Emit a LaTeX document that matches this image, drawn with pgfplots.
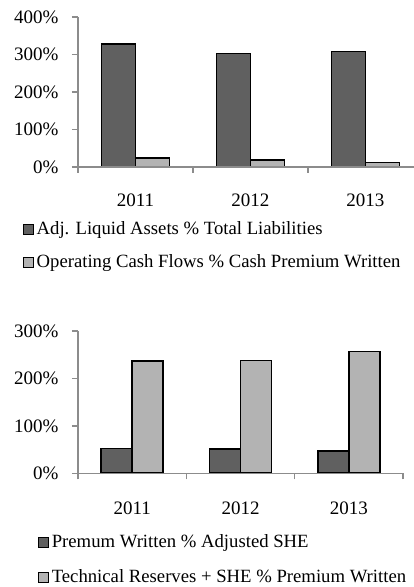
\documentclass[border=0pt]{standalone}
\usepackage{fontspec}
\setmainfont{Liberation Serif}
\usepackage{pgfplots}
\pgfplotsset{compat=1.18}
\definecolor{darkbar}{RGB}{96,96,96}
\definecolor{lightbar}{RGB}{179,179,179}
\definecolor{axisgray}{RGB}{140,140,140}
\pgfplotsset{
  mybar/.style={
    scale only axis,
    ybar=0pt,
    axis lines*=left,
    axis line style={axisgray, line width=1.3pt},
    axis on top,
    tick align=outside,
    major tick length=6pt,
    tick style={axisgray, line width=1.3pt},
    xmin=-0.5, ymin=0,
    xtick={-0.5,0.5,1.5,2.5}, xticklabels={},
    extra x ticks={0,1,2}, extra x tick labels={2011,2012,2013},
    extra x tick style={major tick length=0pt},
    yticklabel={\pgfmathprintnumber{\tick}\%},
    /pgf/number format/assume math mode=true,
    tick label style={font=\fontsize{19}{22}\selectfont},
    yticklabel style={xshift=-10pt},
    clip=false,
    legend cell align=left,
    legend image code/.code={\draw[#1,line width=1.2pt] (0pt,-5pt) rectangle (10pt,5pt); \path (12.5pt,0pt);},
  }
}
\begin{document}
\begin{tikzpicture}[x=1pt,y=1pt]
\useasboundingbox (0,0) rectangle (414,587);
\begin{axis}[mybar,
  at={(78pt,420pt)}, anchor=south west,
  width=336pt, height=150pt,
  xmax=2.422, ymax=400, ytick={0,100,200,300,400},
  bar width=34pt,
  xticklabel style={yshift=-23pt},
  legend style={at={(-0.165,-0.36)}, anchor=north west, draw=none, fill=none,
    inner sep=0pt, row sep=16pt,
    nodes={inner sep=0pt, text height=13pt, text depth=4pt, font=\fontsize{18.7}{21}\selectfont}},
]
\addplot[fill=darkbar, draw=black, line width=1.6pt] coordinates {(0,328) (1,303) (2,308)};
\addplot[fill=lightbar, draw=black, line width=1.6pt] coordinates {(0,24) (1,19) (2,12)};
\legend{Adj. Liquid Assets \% Total Liabilities, Operating Cash Flows \% Cash Premium Written}
\end{axis}
\begin{axis}[mybar,
  at={(78pt,113.7pt)}, anchor=south west,
  width=325pt, height=142.3pt,
  xmax=2.5, ymax=300, ytick={0,100,200,300},
  bar width=31pt,
  xticklabel style={yshift=-25pt},
  legend style={at={(-0.124,-0.427)}, anchor=north west, draw=none, fill=none,
    inner sep=0pt, row sep=18pt,
    nodes={inner sep=0pt, text height=13pt, text depth=4pt, font=\fontsize{18.7}{21}\selectfont}},
]
\addplot[fill=darkbar, draw=black, line width=1.6pt] coordinates {(0,52) (1,51) (2,47)};
\addplot[fill=lightbar, draw=black, line width=1.6pt] coordinates {(0,237) (1,238) (2,257)};
\legend{Premum Written \% Adjusted SHE, Technical Reserves + SHE \% Premium Written}
\end{axis}
\end{tikzpicture}
\end{document}
